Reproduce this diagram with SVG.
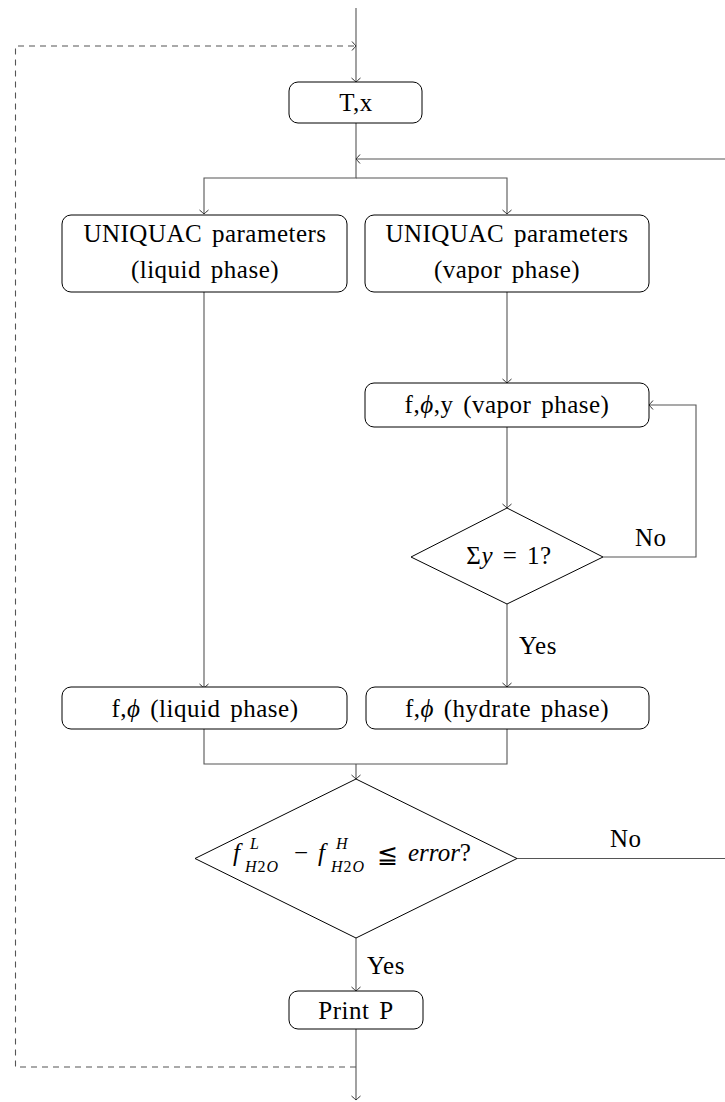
<svg xmlns="http://www.w3.org/2000/svg" width="725" height="1102" viewBox="0 0 725 1102">
<style>
.box{fill:#fff;stroke:#000;stroke-width:1}
.t{font-family:"Liberation Serif","DejaVu Serif",serif;font-size:25px;letter-spacing:0.5px;word-spacing:3px;fill:#000}
.m{font-family:"Liberation Serif","DejaVu Serif",serif;font-size:25px;fill:#000;font-style:italic}
.s{font-family:"Liberation Serif","DejaVu Serif",serif;font-size:16px;letter-spacing:1px;fill:#000;font-style:italic}
.c{fill:none;stroke:#555;stroke-width:1.1}
.d{fill:none;stroke:#555;stroke-width:1.1;stroke-dasharray:6 5}
</style>
<defs>
<marker id="arr" markerUnits="userSpaceOnUse" markerWidth="12" markerHeight="12" refX="0" refY="0" viewBox="-6 -6 12 12" orient="auto" overflow="visible">
<path d="M-4,-4.5 Q-1.2,-1.2 0,0 Q-1.2,1.2 -4,4.5" fill="none" stroke="#333" stroke-width="1"/>
</marker>
</defs>
<g id="connectors">
<path class="c" d="M356,8 V82" marker-end="url(#arr)"/>
<path class="d" d="M356,1067 H15.5 V46 H356" marker-end="url(#arr)"/>
<path class="c" d="M356,123 V178 H204 V214" marker-end="url(#arr)"/>
<path class="c" d="M356,178 H507 V214" marker-end="url(#arr)"/>
<path class="c" d="M725,159 H356" marker-end="url(#arr)"/>
<path class="c" d="M204,292 V688" marker-end="url(#arr)"/>
<path class="c" d="M507,292 V383" marker-end="url(#arr)"/>
<path class="c" d="M507,427 V508" marker-end="url(#arr)"/>
<path class="c" d="M603,557 H696 V405 H649" marker-end="url(#arr)"/>
<path class="c" d="M507,604 V687" marker-end="url(#arr)"/>
<path class="c" d="M204,729 V764 H507 V729"/>
<path class="c" d="M356,764 V779" marker-end="url(#arr)"/>
<path class="c" d="M517,858.5 H725"/>
<path class="c" d="M356,938 V991" marker-end="url(#arr)"/>
<path class="c" d="M356,1029 V1100" marker-end="url(#arr)"/>
<text class="t" x="635" y="546">No</text>
<text class="t" x="519" y="654">Yes</text>
<text class="t" x="610" y="847">No</text>
<text class="t" x="367" y="974">Yes</text>
</g>
<g id="n_tx">
<rect class="box" x="289" y="82" width="133" height="41" rx="9"/>
<text class="t" x="356" y="111" text-anchor="middle">T,x</text>
</g>
<g id="n_uniq_liq">
<rect class="box" x="62" y="215" width="285" height="77" rx="9"/>
<text class="t" x="205" y="242" text-anchor="middle">UNIQUAC parameters</text>
<text class="t" x="205" y="278" text-anchor="middle">(liquid phase)</text>
</g>
<g id="n_uniq_vap">
<rect class="box" x="365" y="215" width="284" height="77" rx="9"/>
<text class="t" x="507" y="242" text-anchor="middle">UNIQUAC parameters</text>
<text class="t" x="507" y="278" text-anchor="middle">(vapor phase)</text>
</g>
<g id="n_fphiy">
<rect class="box" x="365" y="383" width="284" height="44" rx="9"/>
<text class="t" x="507" y="413" text-anchor="middle">f,<tspan font-style="italic">ϕ</tspan>,y (vapor phase)</text>
</g>
<g id="n_sumy">
<polygon class="box" points="507,508 603,557 507,604 411,557"/>
<text class="t" x="509" y="564" text-anchor="middle">Σ<tspan font-style="italic">y</tspan> = 1?</text>
</g>
<g id="n_fphi_liq">
<rect class="box" x="62" y="687" width="285" height="42" rx="9"/>
<text class="t" x="205" y="717" text-anchor="middle">f,<tspan font-style="italic">ϕ</tspan> (liquid phase)</text>
</g>
<g id="n_fphi_hyd">
<rect class="box" x="366" y="687" width="283" height="42" rx="9"/>
<text class="t" x="507" y="717" text-anchor="middle">f,<tspan font-style="italic">ϕ</tspan> (hydrate phase)</text>
</g>
<g id="n_error">
<polygon class="box" points="356,779 517,858.5 356,938 195,858.5"/>
<text class="m" x="233" y="861">f</text>
<text class="s" x="250" y="849">L</text>
<text class="s" x="245" y="872">H<tspan font-style="normal">2</tspan>O</text>
<text class="t" x="294" y="861">−</text>
<text class="m" x="318" y="861">f</text>
<text class="s" x="336" y="849">H</text>
<text class="s" x="331" y="872">H<tspan font-style="normal">2</tspan>O</text>
<text class="t" x="377" y="863">≦</text>
<text class="m" x="408" y="861">error<tspan font-style="normal">?</tspan></text>
</g>
<g id="n_print">
<rect class="box" x="289" y="991" width="134" height="38" rx="9"/>
<text class="t" x="356" y="1019" text-anchor="middle">Print P</text>
</g>
</svg>
